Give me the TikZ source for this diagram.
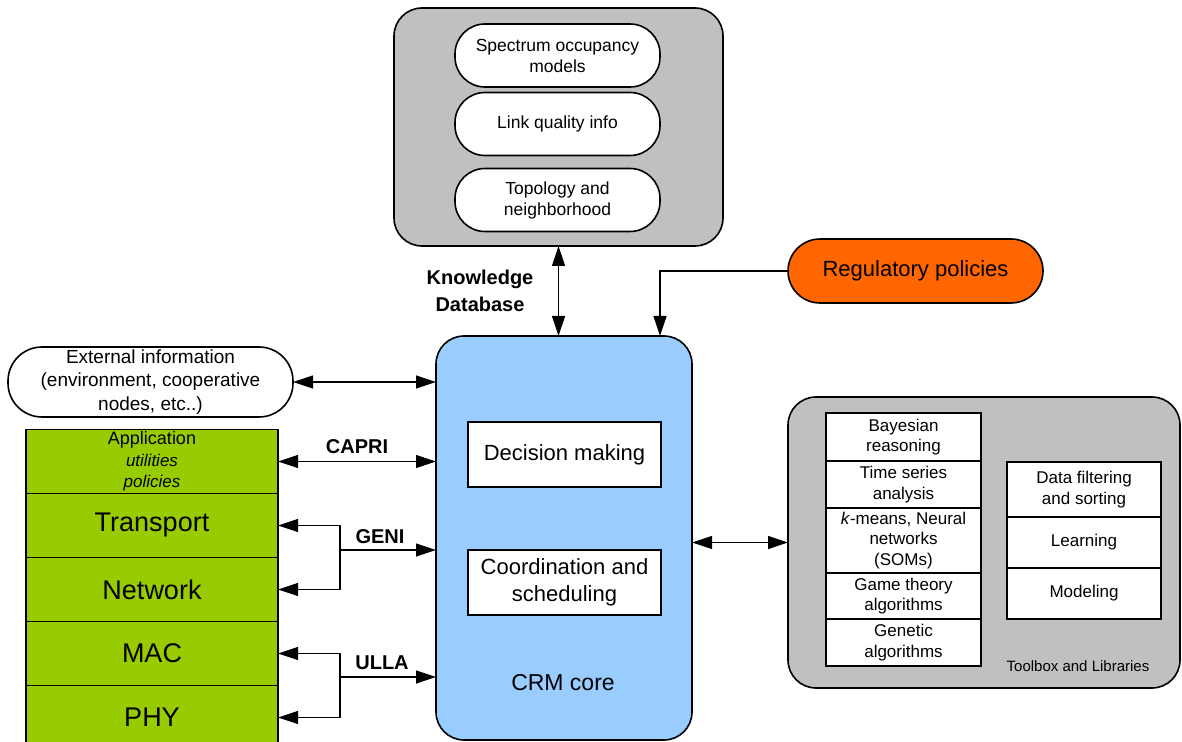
\documentclass[tikz,border=0pt]{standalone}
\usepackage{fontspec}
\setmainfont{Liberation Sans}
\usetikzlibrary{positioning,arrows.meta}
\definecolor{crmblue}{HTML}{99CCFF}
\definecolor{layergreen}{HTML}{99CC00}
\definecolor{regorange}{HTML}{FF6600}
\definecolor{boxgray}{HTML}{C0C0C0}

\begin{document}
\begin{tikzpicture}[
	x=0.5pt, y=-0.5pt,
	every node/.style={outer sep=0pt, inner sep=1pt, align=center},
	container/.style={draw, line width=0.8pt, fill=boxgray, rounded corners=14pt},
	oval/.style={draw, line width=0.8pt, fill=white, rounded corners=15pt,
	minimum width=102.5pt, minimum height=31.5pt, font=\fontsize{8.75}{10.5}\selectfont},
	layer/.style={draw, line width=0.8pt, fill=layergreen, minimum width=126pt,
	minimum height=32pt, font=\fontsize{13.5}{16}\selectfont},
	task/.style={draw, line width=0.8pt, fill=white, minimum width=96.5pt,
	minimum height=32.5pt, font=\fontsize{11}{13.5}\selectfont},
	tool/.style={draw, line width=0.8pt, fill=white, minimum width=77.5pt,
	inner sep=0.5pt, font=\fontsize{8.5}{10.25}\selectfont},
	iface/.style={font=\bfseries\fontsize{10}{12}\selectfont},
	arr/.style={-{Triangle[length=10pt,width=6.5pt]}, line width=0.6pt},
	dbl/.style={{Triangle[length=10pt,width=6.5pt]}-{Triangle[length=10pt,width=6.5pt]}, line width=0.6pt}
	]
	\useasboundingbox (0,0) rectangle (1182,742);
	
	% knowledge database
	\node[container, minimum width=164.5pt, minimum height=119pt] (kdb) at (558.5,127) {};
	\node[oval] (spectrum) at (557.5,55.5) {Spectrum occupancy\\models};
	\node[oval] (link) at (557.5,124) {Link quality info};
	\node[oval] (topology) at (557.5,200) {Topology and\\neighborhood};
	\node[font=\bfseries\fontsize{10}{13.5}\selectfont] (kdblabel) at (480,291) {Knowledge\\Database};
	\node[draw, line width=0.8pt, fill=regorange, rounded corners=16pt, minimum width=127.5pt,
	minimum height=32pt, font=\fontsize{11}{13}\selectfont] (reg) at (915.5,271) {Regulatory policies};
	
	% CRM core
	\node[container, fill=crmblue, minimum width=128pt, minimum height=202pt] (crm) at (564,538) {};
	\node[task] (decision) at (564.5,454.5) {Decision making};
	\node[task] (coord) at (564.5,582.5) {Coordination and\\scheduling};
	\node[font=\fontsize{11.5}{14}\selectfont] (crmlabel) at (563,683) {CRM core};
	
	% external information and protocol stack
	\node[draw, line width=0.8pt, fill=white, rounded corners=17pt, inner sep=0pt, minimum width=142.5pt,
	minimum height=35pt, font=\fontsize{9.5}{11.75}\selectfont] (ext) at (150.5,382)
	{External information\\(environment, cooperative\\nodes, etc..)};
	\node[layer, inner sep=0pt, font=\fontsize{9}{10.75}\selectfont] (app) at (152,461.5)
	{Application\\{\itshape\fontsize{8.5}{10.75}\selectfont utilities}\\{\itshape\fontsize{8.5}{10.75}\selectfont policies}};
	\node[layer] (transport) [below=0pt of app] {Transport};
	\node[layer] (network) [below=0pt of transport] {Network};
	\node[layer] (mac) [below=0pt of network] {MAC};
	\node[layer] (phy) [below=0pt of mac] {PHY};
	\node[iface] (capri) at (357,447) {CAPRI};
	\node[iface] (geni) at (380,537) {GENI};
	\node[iface] (ulla) at (382,663) {ULLA};
	
	% toolbox
	\node[container, minimum width=196pt, minimum height=145.5pt] (tools) at (984,542.5) {};
	\node[tool, minimum height=24pt] (bayes) at (903.5,437) {Bayesian\\reasoning};
	\node[tool, minimum height=23.5pt] (timeser) [below=0pt of bayes] {Time series\\analysis};
	\node[tool, minimum height=32.5pt] (kmeans) [below=0pt of timeser] {\textit{k}-means, Neural\\networks\\(SOMs)};
	\node[tool, minimum height=23pt] (game) [below=0pt of kmeans] {Game theory\\algorithms};
	\node[tool, minimum height=23.5pt] (genetic) [below=0pt of game] {Genetic\\algorithms};
	\node[tool, minimum width=77pt, minimum height=27.5pt] (filter) at (1084,489.5) {Data filtering\\and sorting};
	\node[tool, minimum width=77pt, minimum height=25.5pt] (learning) [below=0pt of filter] {Learning};
	\node[tool, minimum width=77pt, minimum height=25.5pt] (modeling) [below=0pt of learning] {Modeling};
	\node[font=\fontsize{7.5}{9}\selectfont] (toolslabel) at (1078,666) {Toolbox and Libraries};
	
	\coordinate (genijoin) at (340,550);
	\coordinate (ullajoin) at (340,677);
	\coordinate (regin) at (660,336);
	
	\draw[dbl] (kdb.south) -- (kdb.south |- crm.north);
	\draw[arr] (reg.west) -| (regin);
	\draw[dbl] (ext.east) -- (ext.east -| crm.west);
	\draw[dbl] (app.east) -- (app.east -| crm.west);
	\draw[dbl] (transport.east) -| (genijoin) |- (network.east);
	\draw[arr] (genijoin) -- (genijoin -| crm.west);
	\draw[dbl] (mac.east) -| (ullajoin) |- (phy.east);
	\draw[arr] (ullajoin) -- (ullajoin -| crm.west);
	\draw[dbl] (tools.west -| crm.east) -- (tools.west);
\end{tikzpicture}
\end{document}
